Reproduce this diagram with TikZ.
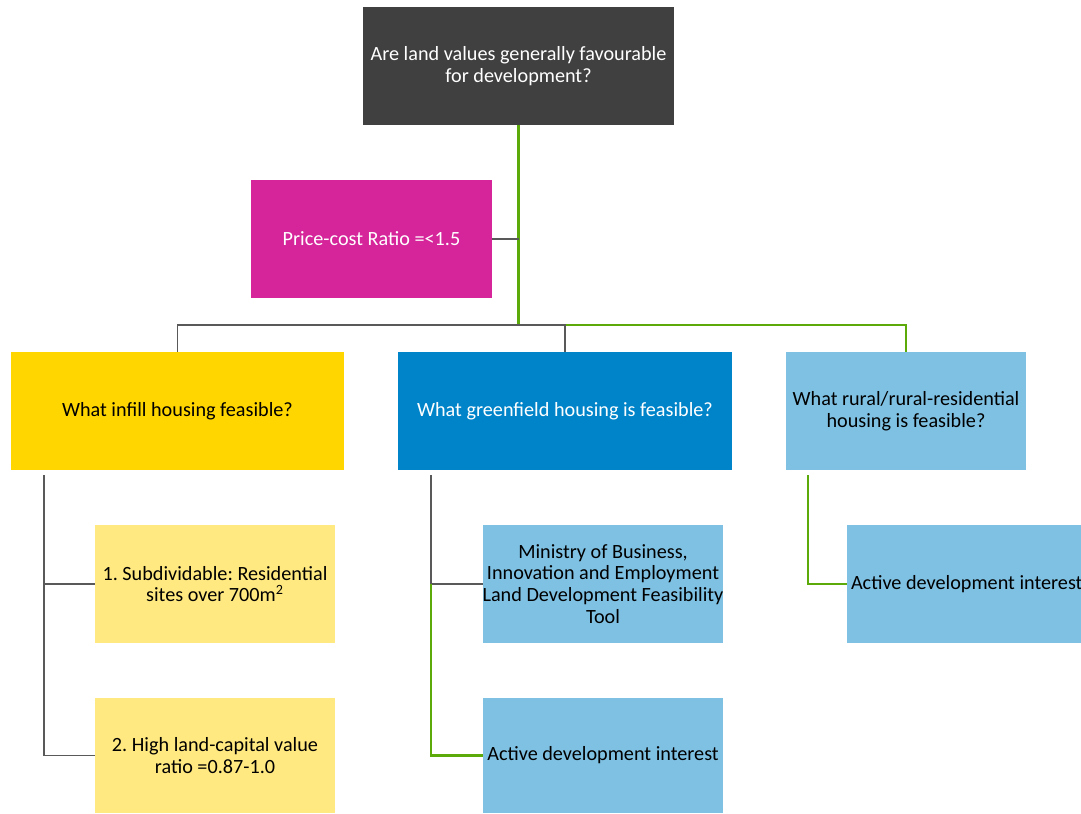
\documentclass[tikz,border=0pt]{standalone}
\usepackage{fontspec}
\setmainfont{Carlito}
\usepackage{xcolor}
\definecolor{topgray}{HTML}{404041}
\definecolor{pricemag}{HTML}{D6259A}
\definecolor{infillyel}{HTML}{FFD600}
\definecolor{greenblue}{HTML}{0084C9}
\definecolor{paleblue}{HTML}{7FC1E3}
\definecolor{paleyel}{HTML}{FFE980}
\definecolor{linkgreen}{HTML}{5BAA0A}
\definecolor{linkgray}{HTML}{595959}
\frenchspacing

\begin{document}
\begin{tikzpicture}[x=0.02cm,y=-0.02cm,font=\fontsize{11.5}{12.4}\selectfont,
  box/.style={inner sep=0pt,outer sep=0pt,align=center,minimum height=2.36cm},
  link/.style={linkgray,line width=0.8pt},
  glink/.style={linkgreen,line width=1.2pt}]
\useasboundingbox (0,0) rectangle (1081,814);
\node[box,fill=topgray,text=white,minimum width=6.22cm] (land) at (518.5,66) {Are land values generally favourable\\for development?};
\node[box,fill=pricemag,text=white,minimum width=4.82cm] (price) at (371.5,239) {Price-cost Ratio =<1.5};
\node[box,fill=infillyel,minimum width=6.66cm] (infill) at (177.5,411) {What infill housing feasible?};
\node[box,fill=greenblue,text=white,minimum width=6.68cm] (green) at (565,411) {What greenfield housing is feasible?};
\node[box,fill=paleblue,minimum width=4.8cm] (rural) at (906,411) {What rural/rural-residential\\housing is feasible?};
\node[box,fill=paleyel,minimum width=4.8cm] (subdiv) at (215,584) {1. Subdividable: Residential\\sites over 700m\textsuperscript{2}};
\node[box,fill=paleyel,minimum width=4.8cm,minimum height=2.3cm] (lcratio) at (215,755.5) {2. High land-capital value\\ratio =0.87-1.0};
\node[box,fill=paleblue,minimum width=4.8cm] (mbie) at (603,584) {Ministry of Business,\\Innovation and Employment\\Land Development Feasibility\\Tool};
\node[box,fill=paleblue,minimum width=4.8cm,minimum height=2.3cm] (activegf) at (603,755.5) {Active development interest};
\node[box,fill=paleblue,minimum width=4.86cm] (activerr) at (968.5,584) {\makebox[4.7cm][l]{Active development interest}};
\coordinate (hub) at (518.5,325);
\draw[glink] (land.south) -- (hub) -| (rural.north);
\draw[link] (hub) -| (infill.north);
\draw[link] (hub) -| (green.north);
\draw[link] (price.east) -- (price.east -| hub);
\coordinate (infillspine) at (44,475);
\draw[link] (infillspine) |- (subdiv.west);
\draw[link] (infillspine) |- (lcratio.west);
\coordinate (gfspine) at (431,475);
\draw[link] (gfspine) |- (mbie.west);
\draw[glink] (gfspine |- mbie.west) |- (activegf.west);
\coordinate (rrspine) at (808,475);
\draw[glink] (rrspine) |- (activerr.west);
\end{tikzpicture}
\end{document}
